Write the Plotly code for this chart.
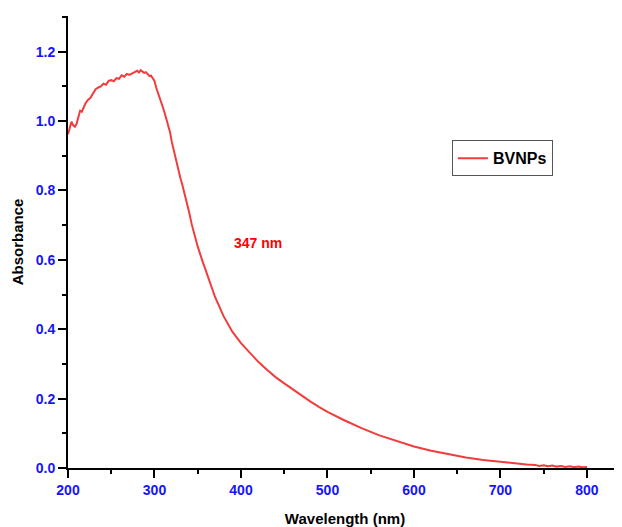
import plotly.graph_objects as go

wavelength = [200, 202, 204, 206, 208, 210, 212, 214, 216, 218, 220, 223, 226, 229, 232, 235, 238, 241, 244, 247,
              250, 253, 256, 259, 262, 265, 268, 271, 274, 277, 280, 282, 284, 286, 288, 290, 292, 294, 296, 298,
              300, 302, 304, 306, 308, 310, 312, 314, 316, 318, 320, 322, 324, 326, 327, 328, 330, 332, 334, 336,
              338, 340, 343, 346, 350, 355, 360, 365, 370, 380, 390, 400, 410, 420, 430, 440, 450, 460, 470, 480,
              490, 500, 520, 540, 560, 580, 600, 620, 640, 660, 680, 700, 710, 720, 730, 740, 745, 750, 755, 760,
              765, 770, 775, 780, 785, 790, 795, 800]
absorbance = [0.962, 0.985, 0.998, 0.988, 0.984, 0.993, 1.012, 1.030, 1.027, 1.040, 1.050, 1.061, 1.067, 1.080, 1.092,
              1.097, 1.100, 1.108, 1.105, 1.116, 1.118, 1.115, 1.124, 1.122, 1.132, 1.128, 1.136, 1.133, 1.138, 1.141,
              1.145, 1.140, 1.147, 1.142, 1.139, 1.141, 1.135, 1.130, 1.131, 1.122, 1.116, 1.096, 1.082, 1.070, 1.050,
              1.038, 1.021, 1.003, 0.985, 0.968, 0.940, 0.918, 0.896, 0.877, 0.872, 0.860, 0.835, 0.818, 0.800, 0.778,
              0.757, 0.738, 0.703, 0.672, 0.638, 0.600, 0.563, 0.527, 0.493, 0.437, 0.393, 0.360, 0.332, 0.306, 0.283,
              0.262, 0.244, 0.226, 0.209, 0.192, 0.176, 0.162, 0.137, 0.114, 0.094, 0.077, 0.062, 0.050, 0.039, 0.030,
              0.023, 0.017, 0.014, 0.012, 0.010, 0.009, 0.006, 0.008, 0.005, 0.007, 0.004, 0.006, 0.003, 0.005, 0.002,
              0.004, 0.002, 0.003]

series_name = "BVNPs"
x_title = "Wavelength (nm)"
y_title = "Absorbance"
annotation_text = "347 nm"

font_family = "Arial, Liberation Sans, sans-serif"

fig = go.Figure()
fig.add_trace(go.Scatter(x=wavelength, y=absorbance, mode="lines", name=series_name,
                         line=dict(color="#f23c3c", width=2)))

axis_common = dict(showgrid=False, zeroline=False, showline=True, linecolor="black", linewidth=2,
                   ticks="outside", tickcolor="black", tickwidth=2, ticklen=8, automargin=False,
                   tickfont=dict(family=font_family, size=14, color="#1414ff", weight="bold"))

fig.update_xaxes(range=[200, 840.5], dtick=100, tick0=200,
                 minor=dict(ticks="outside", ticklen=4, tickwidth=2, tickcolor="black", dtick=50, tick0=200),
                 title=dict(text=x_title, font=dict(family=font_family, size=15, color="black", weight="bold"),
                            standoff=18),
                 **axis_common)
fig.update_yaxes(range=[0, 1.303], dtick=0.2, tick0=0, tickformat=".1f",
                 minor=dict(ticks="outside", ticklen=4, tickwidth=2, tickcolor="black", dtick=0.1, tick0=0),
                 title=dict(text=y_title, font=dict(family=font_family, size=15, color="black", weight="bold"),
                            standoff=8),
                 **axis_common)

fig.add_annotation(x=419.6, y=0.650, text=annotation_text, showarrow=False,
                   font=dict(family=font_family, size=14, color="#ff0000", weight="bold"))

fig.update_layout(
    width=614, height=519,
    margin=dict(l=60, r=0, t=8, b=59, autoexpand=False),
    paper_bgcolor="white", plot_bgcolor="white",
    showlegend=True,
    legend=dict(x=0.693, y=0.725, xanchor="left", yanchor="top",
                bordercolor="#555555", borderwidth=1, bgcolor="white",
                font=dict(family=font_family, size=16, color="black", weight="bold"),
                itemwidth=30, tracegroupgap=0),
)

fig.write_html("out.html")
